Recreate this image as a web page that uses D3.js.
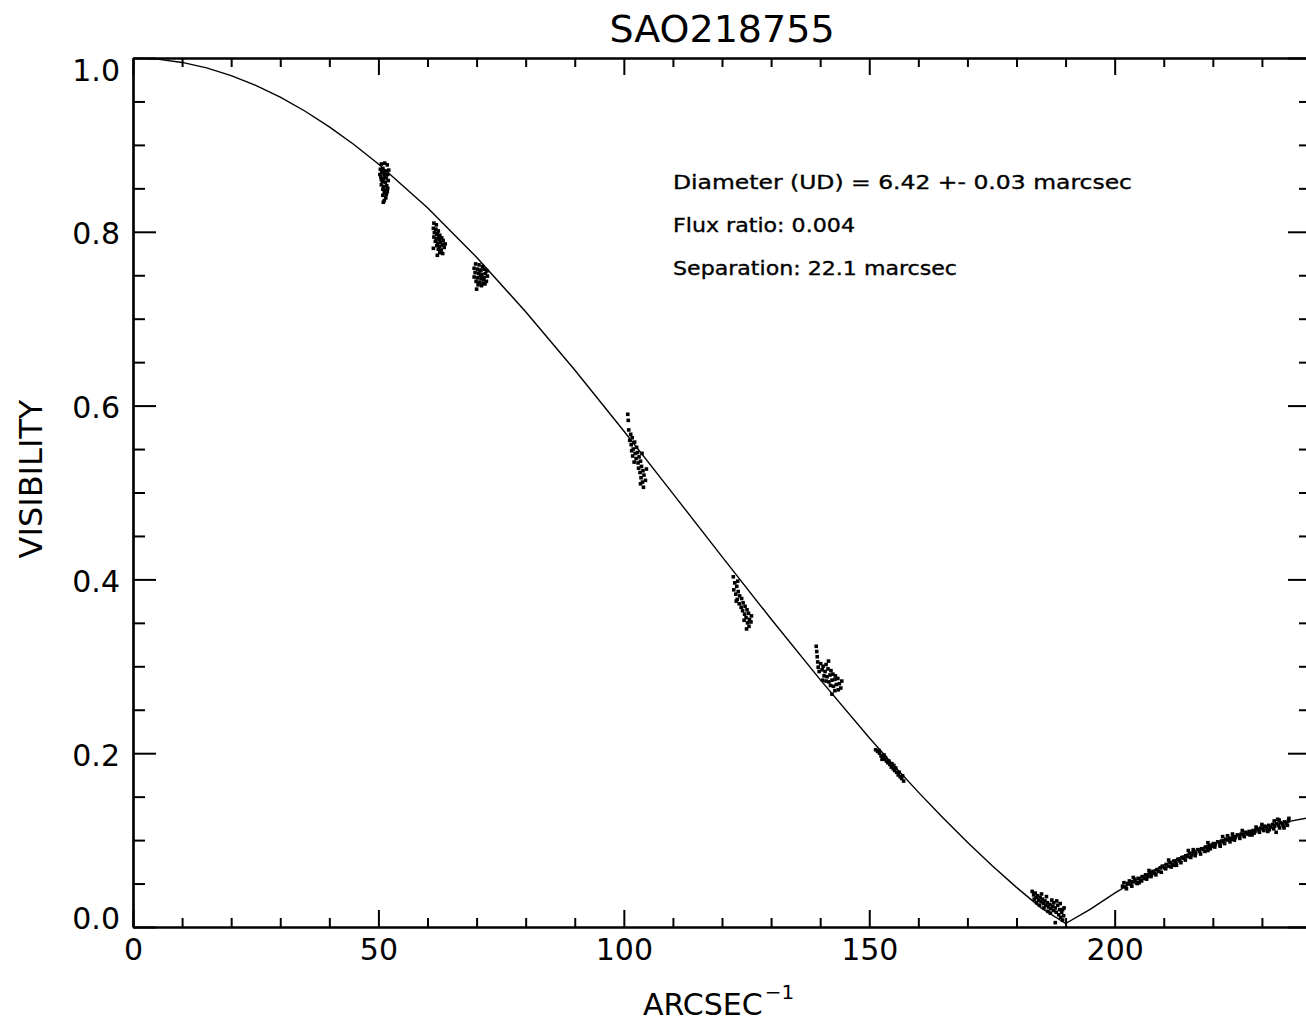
<!DOCTYPE html>
<html>
<head>
<meta charset="utf-8">
<script src="https://cdn.jsdelivr.net/npm/d3@7"></script>
<style>
  html, body { margin: 0; padding: 0; background: #fff; }
  svg { display: block; }
  text { font-family: "DejaVu Sans", sans-serif; fill: #000; }
</style>
</head>
<body>
<svg id="chart" width="1306" height="1021"></svg>
<script>
// ---------- DATA ----------
const title = "SAO218755";
const xLabel = "ARCSEC";
const yLabel = "VISIBILITY";
const annotations = [
  "Diameter (UD) = 6.42 +- 0.03 marcsec",
  "Flux ratio: 0.004",
  "Separation: 22.1 marcsec"
];
const xMajorTicks = [0, 50, 100, 150, 200];
const xMinorTicks = [10,20,30,40,60,70,80,90,110,120,130,140,160,170,180,190,210,220,230];
const yMajorTicks = [0.0, 0.2, 0.4, 0.6, 0.8, 1.0];
const yMinorTicks = [0.05,0.1,0.15,0.25,0.3,0.35,0.45,0.5,0.55,0.65,0.7,0.75,0.85,0.9,0.95];

// model curve (spatial frequency, visibility)
const modelU = [3,5,10,15,20,25,30,35,40,45,50,60,70,80,90,100,110,120,130,140,150,155,160,165,170,175,180,185,190,195,200,205,210,215,220,225,230,235,240];
const modelV = [0.999,0.9987,0.9949,0.9886,0.9798,0.9686,0.9549,0.9390,0.9208,0.9005,0.8781,0.8278,0.7707,0.7080,0.6409,0.5708,0.4987,0.4262,0.3544,0.2846,0.2178,0.1859,0.1552,0.1257,0.0976,0.0708,0.0456,0.0220,0.004,0.0203,0.0390,0.0559,0.0713,0.0844,0.0961,0.1061,0.1146,0.1210,0.1261];

// measured data clusters [u, V]
const cluster1 = [[50.6,0.878],[51.3,0.879],[51.8,0.877],[50.4,0.872],[50.9,0.873],[51.5,0.870],[50.7,0.868],[51.2,0.866],[51.9,0.866],[50.5,0.863],[51.0,0.861],[51.6,0.862],[50.8,0.858],[51.4,0.857],[52.0,0.859],[50.6,0.854],[51.1,0.852],[51.7,0.853],[50.9,0.849],[51.4,0.848],[51.9,0.850],[51.2,0.845],[51.6,0.843],[50.9,0.842],[51.5,0.839],[51.8,0.846],[51.2,0.836],[50.6,0.860],[51.3,0.863],[51.0,0.869],[51.0,0.834],[50.3,0.866],[52.1,0.871]];
const cluster2 = [[61.3,0.810],[61.8,0.808],[61.2,0.804],[61.7,0.803],[62.2,0.801],[61.4,0.799],[61.9,0.797],[62.5,0.796],[61.3,0.794],[61.8,0.792],[62.4,0.791],[62.9,0.793],[61.6,0.789],[62.1,0.787],[62.7,0.788],[63.2,0.790],[61.9,0.784],[62.5,0.783],[63.0,0.785],[62.2,0.780],[62.8,0.779],[63.4,0.782],[62.5,0.776],[63.1,0.775],[61.2,0.781],[62.0,0.773],[63.6,0.786],[62.3,0.794],[62.0,0.798]];
const cluster3 = [[69.8,0.763],[70.5,0.762],[71.2,0.760],[69.5,0.758],[70.2,0.757],[70.9,0.756],[71.6,0.757],[72.1,0.755],[69.7,0.753],[70.4,0.752],[71.1,0.751],[71.8,0.752],[69.5,0.748],[70.2,0.747],[70.9,0.746],[71.5,0.747],[72.2,0.749],[69.9,0.743],[70.6,0.742],[71.3,0.741],[72.0,0.743],[70.3,0.739],[71.0,0.738],[71.7,0.740],[70.0,0.734],[70.6,0.755],[71.4,0.745],[70.8,0.750]];
const cluster4 = [[100.8,0.590],[100.9,0.583],[101.0,0.572],[101.4,0.567],[101.2,0.560],[101.7,0.563],[101.5,0.555],[102.2,0.558],[101.9,0.550],[102.6,0.552],[102.3,0.545],[101.8,0.542],[102.8,0.546],[102.5,0.539],[103.1,0.541],[102.9,0.534],[103.4,0.536],[103.0,0.528],[103.6,0.530],[103.3,0.523],[103.9,0.525],[103.5,0.517],[104.1,0.520],[103.8,0.512],[104.4,0.514],[104.0,0.506],[103.4,0.510],[104.6,0.527],[102.1,0.535],[103.7,0.545],[101.6,0.548]];
const cluster5 = [[122.3,0.403],[122.6,0.396],[123.0,0.392],[122.4,0.388],[123.3,0.386],[122.8,0.383],[123.6,0.381],[123.1,0.377],[124.0,0.378],[123.5,0.372],[124.3,0.373],[123.9,0.368],[124.7,0.369],[124.2,0.364],[125.1,0.365],[124.6,0.360],[125.4,0.361],[124.9,0.356],[125.6,0.354],[125.2,0.350],[125.9,0.351],[125.5,0.346],[124.5,0.353],[123.2,0.398],[122.9,0.375],[126.0,0.358],[125.0,0.343]];
const cluster6 = [[139.2,0.323],[139.3,0.317],[139.4,0.311],[139.5,0.305],[139.6,0.299],[139.8,0.294],[140.1,0.303],[140.6,0.300],[141.2,0.302],[140.4,0.296],[141.0,0.294],[141.6,0.297],[142.2,0.295],[140.8,0.289],[141.4,0.288],[142.0,0.290],[142.6,0.291],[143.1,0.289],[141.2,0.283],[141.8,0.282],[142.4,0.284],[143.0,0.285],[143.6,0.286],[142.1,0.278],[142.7,0.277],[143.3,0.279],[143.9,0.280],[144.4,0.283],[143.0,0.272],[143.7,0.273],[142.4,0.268],[144.2,0.275],[140.5,0.284],[141.7,0.306]];
const cluster7 = [[151.3,0.204],[151.7,0.202],[152.1,0.200],[152.4,0.197],[152.8,0.196],[153.1,0.193],[153.5,0.191],[153.8,0.189],[154.2,0.187],[154.5,0.184],[154.9,0.182],[155.2,0.180],[155.6,0.178],[155.9,0.175],[156.3,0.173],[156.6,0.171],[157.0,0.168],[152.0,0.203],[153.3,0.195],[154.6,0.188],[155.4,0.183],[156.1,0.178],[156.8,0.174],[153.0,0.198],[154.0,0.191],[152.6,0.193],[155.0,0.186]];
const cluster8 = [[183.2,0.041],[183.5,0.037],[183.8,0.039],[184.0,0.034],[184.3,0.036],[184.5,0.031],[184.8,0.034],[185.0,0.029],[185.3,0.032],[185.5,0.027],[185.8,0.030],[186.0,0.025],[186.3,0.028],[186.5,0.023],[186.8,0.026],[187.0,0.021],[187.2,0.031],[187.4,0.024],[187.6,0.019],[187.9,0.022],[188.1,0.017],[188.4,0.025],[188.6,0.014],[188.8,0.020],[189.0,0.011],[189.2,0.017],[189.4,0.008],[189.6,0.013],[184.1,0.028],[185.6,0.022],[186.9,0.016],[188.2,0.030],[189.7,0.022],[187.9,0.005],[183.6,0.032],[184.7,0.025],[186.1,0.035],[187.6,0.028],[188.9,0.027],[189.4,0.020],[186.4,0.018],[185.1,0.038]];
const cluster9 = [[201.6,0.047],[201.9,0.051],[202.2,0.046],[202.6,0.050],[203.0,0.053],[203.3,0.049],[203.7,0.052],[204.1,0.055],[204.4,0.051],[204.8,0.056],[205.2,0.054],[205.6,0.058],[206.0,0.056],[206.3,0.060],[206.7,0.058],[207.1,0.062],[207.5,0.060],[207.8,0.064],[208.2,0.062],[208.6,0.066],[209.0,0.064],[209.3,0.068],[209.7,0.070],[210.1,0.068],[210.5,0.072],[210.9,0.070],[211.3,0.074],[211.7,0.072],[212.1,0.076],[212.5,0.074],[212.9,0.078],[213.3,0.076],[213.7,0.080],[214.1,0.079],[214.5,0.082],[214.9,0.081],[215.3,0.085],[215.7,0.083],[216.1,0.086],[216.5,0.085],[216.9,0.089],[217.3,0.087],[217.7,0.090],[218.1,0.089],[218.5,0.092],[218.9,0.091],[219.3,0.094],[219.7,0.093],[220.1,0.096],[220.5,0.095],[221.0,0.098],[221.4,0.096],[221.8,0.099],[222.2,0.098],[222.6,0.101],[223.0,0.100],[223.4,0.102],[223.8,0.101],[224.2,0.104],[224.6,0.103],[225.0,0.106],[225.4,0.105],[225.8,0.107],[226.2,0.106],[226.6,0.109],[227.0,0.107],[227.4,0.110],[227.8,0.109],[228.2,0.111],[228.6,0.110],[229.0,0.113],[229.4,0.111],[229.8,0.114],[230.2,0.113],[230.6,0.116],[231.0,0.114],[231.4,0.117],[231.8,0.115],[232.2,0.118],[232.6,0.116],[233.0,0.119],[233.4,0.117],[233.8,0.120],[234.2,0.118],[234.6,0.121],[235.0,0.119],[235.4,0.122],[232.5,0.122],[233.5,0.123],[234.5,0.114],[230.0,0.118],[228.0,0.106],[226.0,0.111],[223.0,0.105],[219.0,0.088],[205.0,0.051],[212.0,0.071],[216.0,0.089],[221.5,0.093]];
const cluster9b = [[202.4,0.044],[203.5,0.047],[204.6,0.050],[205.5,0.053],[206.5,0.055],[207.4,0.058],[208.4,0.060],[209.5,0.063],[210.4,0.067],[211.5,0.069],[212.6,0.071],[213.5,0.074],[214.4,0.077],[215.5,0.080],[216.4,0.082],[217.5,0.084],[218.4,0.087],[219.5,0.090],[220.4,0.092],[221.5,0.094],[222.4,0.096],[223.5,0.098],[224.4,0.100],[225.5,0.102],[226.4,0.104],[227.5,0.106],[228.4,0.108],[229.5,0.109],[230.4,0.111],[231.5,0.112],[232.4,0.113],[233.6,0.114],[234.4,0.116],[235.2,0.117],[203.8,0.057],[207.0,0.065],[211.0,0.077],[215.0,0.088],[219.0,0.097],[224.0,0.107],[228.8,0.115],[233.2,0.124],[235.5,0.125],[222.0,0.104],[231.2,0.110],[232.9,0.109]];

// ---------- LAYOUT ----------
const svg = d3.select("#chart");
const pLeft = 133, pRight = 1311, pTop = 58, pBottom = 927;

const x = d3.scaleLinear().domain([0, 240]).range([pLeft, pRight]);
const y = d3.scaleLinear().domain([0, 1]).range([pBottom, pTop]);

const g = svg.append("g");

// title
svg.append("text")
  .attr("x", 722).attr("y", 42)
  .attr("text-anchor", "middle")
  .style("font-size", "38px")
  .text(title);

function styleAxis(sel) {
  sel.selectAll("path.domain").attr("stroke", "#000").attr("stroke-width", 2.2);
  sel.selectAll(".tick line").attr("stroke", "#000").attr("stroke-width", 2);
}

// bottom
const bMaj = g.append("g").attr("transform", `translate(0,${pBottom})`)
  .call(d3.axisBottom(x).tickValues(xMajorTicks).tickSize(-17).tickSizeOuter(0).tickPadding(12).tickFormat(d3.format("d")));
bMaj.selectAll("text").style("font-size", "30px").attr("dy", "0.71em");
styleAxis(bMaj);
const bMin = g.append("g").attr("transform", `translate(0,${pBottom})`)
  .call(d3.axisBottom(x).tickValues(xMinorTicks).tickSize(-9).tickSizeOuter(0).tickFormat(""));
styleAxis(bMin);

// top
const tMaj = g.append("g").attr("transform", `translate(0,${pTop})`)
  .call(d3.axisTop(x).tickValues(xMajorTicks).tickSize(-17).tickSizeOuter(0).tickFormat(""));
styleAxis(tMaj);
const tMin = g.append("g").attr("transform", `translate(0,${pTop})`)
  .call(d3.axisTop(x).tickValues(xMinorTicks).tickSize(-9).tickSizeOuter(0).tickFormat(""));
styleAxis(tMin);

// left
const lMaj = g.append("g").attr("transform", `translate(${pLeft},0)`)
  .call(d3.axisLeft(y).tickValues(yMajorTicks).tickSize(-23).tickSizeOuter(0).tickPadding(13).tickFormat(d3.format(".1f")));
lMaj.selectAll("text").style("font-size", "30px")
  .attr("dy", d => d === 1 ? "0.75em" : (d === 0 ? "0.05em" : "0.4em"));
styleAxis(lMaj);
const lMin = g.append("g").attr("transform", `translate(${pLeft},0)`)
  .call(d3.axisLeft(y).tickValues(yMinorTicks).tickSize(-12).tickSizeOuter(0).tickFormat(""));
styleAxis(lMin);

// right
const rMaj = g.append("g").attr("transform", `translate(${pRight},0)`)
  .call(d3.axisRight(y).tickValues(yMajorTicks).tickSize(-23).tickSizeOuter(0).tickFormat(""));
styleAxis(rMaj);
const rMin = g.append("g").attr("transform", `translate(${pRight},0)`)
  .call(d3.axisRight(y).tickValues(yMinorTicks).tickSize(-12).tickSizeOuter(0).tickFormat(""));
styleAxis(rMin);

// axis titles
const xt = svg.append("text")
  .attr("x", 643).attr("y", 1015)
  .style("font-size", "30px");
xt.append("tspan").text(xLabel);
xt.append("tspan").attr("dy", -16).attr("dx", 2).style("font-size", "20px").text("\u22121");

svg.append("text")
  .attr("transform", `translate(42,479) rotate(-90)`)
  .attr("text-anchor", "middle")
  .style("font-size", "32px")
  .text(yLabel);

// annotations
const annoY = [189, 232, 275];
const annoLen = [459, 182, 284];
annotations.forEach((t, i) => {
  svg.append("text")
    .attr("x", 673).attr("y", annoY[i])
    .attr("textLength", annoLen[i])
    .attr("lengthAdjust", "spacingAndGlyphs")
    .style("font-size", "19.5px")
    .style("stroke", "#000")
    .style("stroke-width", "0.35px")
    .text(t);
});

// model curve
const model = modelU.map((u, i) => [u, modelV[i]]);
g.append("path")
  .datum(model)
  .attr("fill", "none")
  .attr("stroke", "#000")
  .attr("stroke-width", 1.4)
  .attr("d", d3.line().x(d => x(d[0])).y(d => y(d[1])));

// data points
const allPts = [].concat(cluster1, cluster2, cluster3, cluster4, cluster5, cluster6, cluster7, cluster8, cluster9, cluster9b);
g.append("g").selectAll("rect")
  .data(allPts)
  .join("rect")
  .attr("x", d => x(d[0]) - 1.8)
  .attr("y", d => y(d[1]) - 1.8)
  .attr("width", 3.6)
  .attr("height", 3.6)
  .attr("fill", "#000");
</script>
</body>
</html>
